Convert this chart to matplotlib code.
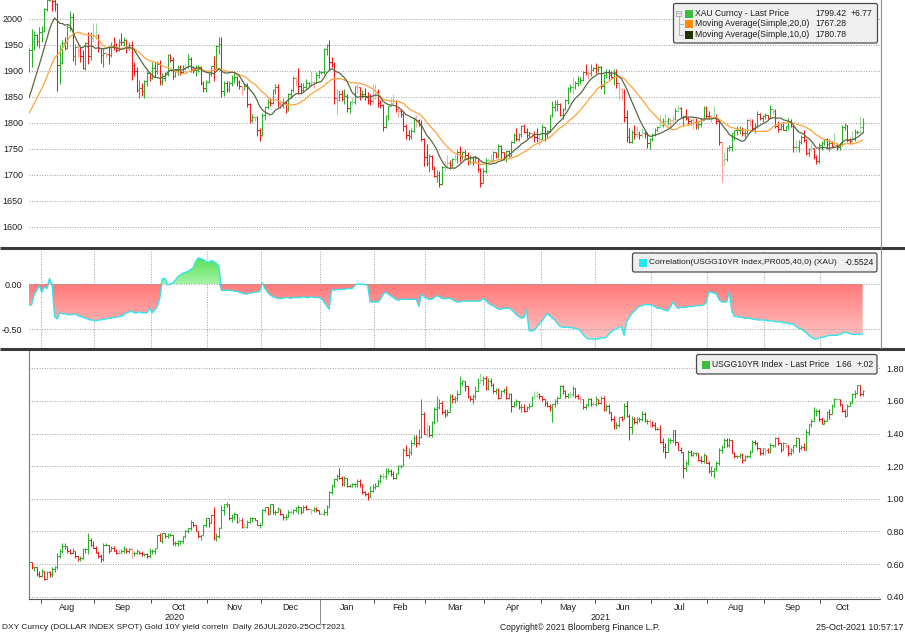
import numpy as np
import pandas as pd
import matplotlib
matplotlib.use("Agg")
import matplotlib.pyplot as plt
import matplotlib.transforms as mtransforms
from matplotlib.patches import FancyBboxPatch, Rectangle
from matplotlib.colors import LinearSegmentedColormap

plt.rcParams['font.family'] = ['Liberation Sans', 'DejaVu Sans']

dates = pd.bdate_range('2020-07-27', '2021-10-25')

# XAU spot, one inner list per calendar month (Jul-2020 .. Oct-2021)
gold_prior = [1781, 1770, 1775, 1774, 1784, 1795, 1809, 1803, 1798, 1803,
              1809, 1808, 1796, 1810, 1818, 1843, 1871, 1888, 1902]
gold_close = [
    [1941, 1958, 1970, 1957, 1975],
    [1976, 2019, 2037, 2063, 2035, 2028, 1911, 1915, 1954, 1944, 1985, 2003, 1929, 1946, 1940, 1929, 1906, 1953, 1929, 1964, 1968],
    [1970, 1944, 1930, 1934, 1932, 1930, 1947, 1946, 1940, 1956, 1955, 1960, 1944, 1950, 1912, 1900, 1863, 1868, 1862, 1880, 1897, 1887],
    [1906, 1900, 1913, 1878, 1887, 1894, 1930, 1922, 1891, 1902, 1908, 1899, 1906, 1907, 1924, 1904, 1902, 1902, 1908, 1877, 1868, 1879],
    [1894, 1909, 1904, 1949, 1951, 1862, 1877, 1866, 1877, 1887, 1888, 1879, 1871, 1866, 1871, 1837, 1805, 1812, 1811, 1787, 1776],
    [1815, 1830, 1841, 1839, 1864, 1870, 1839, 1837, 1839, 1827, 1855, 1863, 1886, 1881, 1871, 1864, 1869, 1876, 1876, 1878, 1877, 1893, 1898],
    [1898, 1943, 1950, 1918, 1913, 1849, 1844, 1856, 1846, 1851, 1828, 1840, 1840, 1871, 1870, 1855, 1856, 1850, 1844, 1843, 1848],
    [1860, 1838, 1834, 1793, 1814, 1832, 1838, 1842, 1826, 1824, 1818, 1795, 1776, 1775, 1784, 1809, 1806, 1797, 1770, 1734],
    [1723, 1737, 1712, 1698, 1700, 1683, 1716, 1716, 1723, 1719, 1731, 1731, 1745, 1736, 1745, 1738, 1726, 1734, 1725, 1732, 1711, 1685, 1708],
    [1728, 1728, 1729, 1744, 1737, 1756, 1744, 1732, 1747, 1736, 1764, 1777, 1770, 1779, 1794, 1783, 1777, 1780, 1778, 1773, 1772, 1769],
    [1792, 1779, 1785, 1815, 1831, 1836, 1837, 1815, 1827, 1844, 1867, 1869, 1870, 1877, 1881, 1882, 1898, 1897, 1896, 1902, 1906],
    [1903, 1908, 1871, 1892, 1898, 1893, 1888, 1898, 1877, 1866, 1859, 1812, 1774, 1764, 1782, 1778, 1779, 1776, 1781, 1779, 1761, 1770],
    [1777, 1787, 1792, 1796, 1803, 1803, 1808, 1805, 1807, 1824, 1828, 1812, 1813, 1810, 1803, 1806, 1802, 1797, 1799, 1806, 1829, 1814],
    [1813, 1810, 1812, 1804, 1763, 1729, 1730, 1752, 1753, 1780, 1786, 1786, 1787, 1781, 1781, 1805, 1803, 1790, 1793, 1818, 1810, 1814],
    [1815, 1810, 1827, 1823, 1795, 1788, 1795, 1787, 1794, 1804, 1794, 1754, 1754, 1764, 1774, 1768, 1743, 1750, 1751, 1734, 1726, 1757],
    [1761, 1769, 1760, 1762, 1756, 1757, 1754, 1760, 1793, 1796, 1768, 1765, 1769, 1782, 1783, 1792.65, 1799.42],
]
gold_high = [
    [1945, 1981, 1977, 1971, 1984],
    [1987, 2022, 2049, 2075, 2069, 2049, 2031, 1950, 1960, 1966, 1989, 2015, 2011, 1951, 1950, 1946, 1941, 1955, 1975, 1975, 1992],
    [1992, 1972, 1945, 1945, 1936, 1948, 1955, 1965, 1953, 1962, 1973, 1966, 1962, 1955, 1957, 1917, 1908, 1882, 1877, 1882, 1900, 1899],
    [1917, 1918, 1920, 1921, 1896, 1898, 1933, 1933, 1927, 1903, 1912, 1911, 1911, 1916, 1933, 1926, 1909, 1911, 1911, 1910, 1881, 1882],
    [1898, 1910, 1929, 1950, 1965, 1966, 1880, 1880, 1881, 1892, 1900, 1891, 1882, 1871, 1875, 1876, 1839, 1818, 1814, 1813, 1790],
    [1820, 1832, 1846, 1848, 1865, 1875, 1875, 1845, 1849, 1843, 1857, 1866, 1890, 1889, 1906, 1876, 1876, 1884, 1878, 1900, 1881, 1898, 1902],
    [1900, 1945, 1952, 1959, 1927, 1917, 1865, 1863, 1863, 1865, 1856, 1842, 1850, 1872, 1875, 1870, 1864, 1867, 1860, 1856, 1875],
    [1875, 1865, 1845, 1836, 1816, 1833, 1848, 1855, 1845, 1828, 1826, 1822, 1799, 1787, 1791, 1812, 1815, 1807, 1806, 1772],
    [1760, 1741, 1738, 1718, 1710, 1708, 1717, 1727, 1739, 1729, 1733, 1741, 1749, 1755, 1747, 1748, 1744, 1738, 1737, 1739, 1733, 1714, 1714],
    [1733, 1732, 1741, 1746, 1745, 1759, 1758, 1745, 1749, 1748, 1765, 1781, 1790, 1781, 1797, 1798, 1790, 1785, 1781, 1785, 1790, 1776],
    [1798, 1793, 1786, 1816, 1843, 1845, 1844, 1839, 1829, 1846, 1869, 1875, 1889, 1880, 1890, 1889, 1900, 1913, 1900, 1913, 1908],
    [1916, 1912, 1910, 1894, 1903, 1903, 1900, 1903, 1903, 1879, 1867, 1865, 1825, 1790, 1787, 1796, 1795, 1785, 1791, 1788, 1782, 1772],
    [1780, 1790, 1795, 1815, 1809, 1818, 1812, 1809, 1816, 1829, 1834, 1831, 1816, 1826, 1812, 1808, 1810, 1810, 1803, 1809, 1832, 1833],
    [1823, 1815, 1832, 1817, 1806, 1762, 1745, 1753, 1758, 1781, 1787, 1795, 1795, 1793, 1788, 1807, 1809, 1807, 1800, 1823, 1820, 1815],
    [1820, 1816, 1834, 1827, 1827, 1803, 1800, 1801, 1795, 1809, 1808, 1795, 1768, 1767, 1777, 1787, 1769, 1752, 1759, 1752, 1738, 1762],
    [1765, 1770, 1772, 1770, 1765, 1781, 1761, 1762, 1796, 1800, 1797, 1772, 1785, 1788, 1786, 1814, 1810],
]
gold_low = [
    [1898, 1907, 1940, 1948, 1945],
    [1955, 1975, 2016, 2034, 2015, 2015, 1862, 1875, 1914, 1941, 1943, 1976, 1920, 1912, 1926, 1917, 1904, 1902, 1914, 1922, 1955],
    [1962, 1936, 1915, 1907, 1925, 1913, 1927, 1940, 1937, 1939, 1950, 1949, 1934, 1940, 1882, 1890, 1859, 1848, 1851, 1849, 1872, 1881],
    [1885, 1889, 1895, 1873, 1873, 1880, 1891, 1917, 1885, 1889, 1892, 1892, 1896, 1899, 1905, 1899, 1897, 1890, 1899, 1873, 1860, 1860],
    [1877, 1890, 1880, 1905, 1932, 1850, 1852, 1860, 1860, 1872, 1876, 1871, 1866, 1854, 1864, 1830, 1800, 1801, 1803, 1775, 1765],
    [1775, 1806, 1826, 1833, 1837, 1856, 1831, 1826, 1828, 1819, 1824, 1849, 1859, 1871, 1856, 1858, 1860, 1866, 1872, 1872, 1868, 1876, 1887],
    [1895, 1895, 1931, 1901, 1908, 1836, 1817, 1842, 1842, 1837, 1822, 1820, 1834, 1837, 1858, 1845, 1848, 1845, 1836, 1835, 1837],
    [1846, 1831, 1829, 1785, 1791, 1806, 1831, 1837, 1822, 1811, 1812, 1784, 1769, 1767, 1769, 1782, 1793, 1794, 1766, 1717],
    [1717, 1705, 1711, 1697, 1687, 1676, 1680, 1707, 1714, 1712, 1714, 1727, 1723, 1725, 1730, 1729, 1720, 1722, 1720, 1723, 1705, 1677, 1684],
    [1704, 1725, 1723, 1726, 1733, 1733, 1730, 1728, 1725, 1734, 1736, 1761, 1766, 1766, 1774, 1780, 1771, 1774, 1772, 1764, 1763, 1757],
    [1767, 1765, 1772, 1783, 1812, 1823, 1824, 1814, 1808, 1825, 1836, 1859, 1855, 1866, 1871, 1875, 1880, 1893, 1885, 1890, 1900],
    [1896, 1899, 1866, 1855, 1887, 1885, 1886, 1874, 1867, 1845, 1844, 1802, 1763, 1761, 1761, 1770, 1774, 1770, 1773, 1771, 1751, 1750],
    [1766, 1775, 1784, 1790, 1792, 1797, 1797, 1792, 1800, 1805, 1823, 1809, 1794, 1806, 1797, 1797, 1789, 1789, 1788, 1793, 1806, 1810],
    [1807, 1801, 1809, 1798, 1758, 1687, 1718, 1727, 1746, 1747, 1768, 1776, 1779, 1775, 1773, 1779, 1795, 1786, 1781, 1791, 1806, 1802],
    [1808, 1808, 1809, 1817, 1791, 1782, 1787, 1786, 1785, 1787, 1792, 1745, 1745, 1745, 1759, 1763, 1738, 1737, 1746, 1730, 1721, 1723],
    [1748, 1757, 1750, 1746, 1752, 1753, 1749, 1748, 1756, 1786, 1764, 1760, 1760, 1766, 1778, 1780, 1781],
]

# 40-day correlation of USGG10YR vs XAU, one inner list per month
corr = [
    [-0.24, -0.23, -0.12, -0.07, -0.02],
    [-0.09, -0.03, -0.05, 0.06, -0.01, -0.36, -0.39, -0.32, -0.33, -0.33, -0.34, -0.34, -0.34, -0.33, -0.35, -0.36, -0.37, -0.38, -0.39, -0.40, -0.40],
    [-0.41, -0.40, -0.40, -0.39, -0.39, -0.38, -0.38, -0.37, -0.37, -0.36, -0.36, -0.34, -0.32, -0.31, -0.30, -0.32, -0.32, -0.31, -0.32, -0.32, -0.32, -0.27],
    [-0.32, -0.29, -0.25, -0.16, 0.06, 0.06, -0.01, 0.00, 0.01, 0.04, 0.08, 0.10, 0.12, 0.13, 0.14, 0.16, 0.18, 0.25, 0.29, 0.28, 0.27, 0.25],
    [0.24, 0.26, 0.25, 0.23, 0.20, -0.07, -0.07, -0.07, -0.07, -0.07, -0.08, -0.08, -0.09, -0.10, -0.11, -0.11, -0.10, -0.10, -0.09, -0.09, -0.08],
    [0.01, -0.05, -0.09, -0.12, -0.14, -0.15, -0.16, -0.16, -0.16, -0.15, -0.15, -0.16, -0.15, -0.15, -0.15, -0.15, -0.14, -0.15, -0.15, -0.14, -0.15, -0.15, -0.15],
    [-0.16, -0.20, -0.24, -0.28, -0.06, -0.07, -0.06, -0.06, -0.06, -0.06, -0.05, -0.05, -0.05, -0.02, 0.00, 0.00, 0.00, -0.01, -0.01, -0.20, -0.20],
    [-0.20, -0.20, -0.17, -0.12, -0.09, -0.11, -0.13, -0.15, -0.17, -0.18, -0.17, -0.17, -0.17, -0.17, -0.17, -0.17, -0.17, -0.25, -0.11, -0.14],
    [-0.16, -0.17, -0.17, -0.15, -0.13, -0.14, -0.16, -0.16, -0.16, -0.16, -0.17, -0.19, -0.20, -0.20, -0.19, -0.19, -0.19, -0.19, -0.19, -0.19, -0.19, -0.19, -0.16],
    [-0.18, -0.21, -0.23, -0.24, -0.26, -0.28, -0.28, -0.27, -0.27, -0.27, -0.28, -0.31, -0.34, -0.36, -0.38, -0.37, -0.29, -0.52, -0.52, -0.51, -0.48, -0.44],
    [-0.41, -0.37, -0.33, -0.35, -0.38, -0.40, -0.44, -0.47, -0.48, -0.48, -0.48, -0.48, -0.49, -0.49, -0.50, -0.52, -0.56, -0.59, -0.61, -0.61, -0.61],
    [-0.61, -0.61, -0.60, -0.60, -0.59, -0.56, -0.53, -0.51, -0.50, -0.48, -0.47, -0.57, -0.42, -0.37, -0.33, -0.30, -0.27, -0.25, -0.24, -0.23, -0.23, -0.23],
    [-0.24, -0.25, -0.27, -0.27, -0.28, -0.29, -0.30, -0.26, -0.20, -0.24, -0.27, -0.26, -0.26, -0.26, -0.25, -0.25, -0.25, -0.24, -0.24, -0.24, -0.23, -0.21],
    [-0.09, -0.09, -0.10, -0.11, -0.17, -0.20, -0.20, -0.20, -0.09, -0.30, -0.36, -0.36, -0.37, -0.37, -0.38, -0.38, -0.38, -0.39, -0.39, -0.40, -0.40, -0.40],
    [-0.40, -0.41, -0.41, -0.41, -0.42, -0.42, -0.42, -0.43, -0.43, -0.44, -0.44, -0.45, -0.47, -0.49, -0.50, -0.52, -0.54, -0.57, -0.59, -0.61, -0.61, -0.60],
    [-0.59, -0.59, -0.58, -0.57, -0.57, -0.57, -0.57, -0.56, -0.55, -0.53, -0.54, -0.55, -0.56, -0.56, -0.56, -0.56, -0.5524],
]

# USGG10YR yield (%), one inner list per month
ylds_prior = 0.59
ylds_close = [
    [0.61, 0.58, 0.58, 0.54, 0.53],
    [0.56, 0.51, 0.55, 0.54, 0.57, 0.58, 0.65, 0.68, 0.71, 0.71, 0.68, 0.67, 0.68, 0.65, 0.63, 0.64, 0.69, 0.69, 0.75, 0.72, 0.70],
    [0.67, 0.65, 0.63, 0.72, 0.72, 0.68, 0.70, 0.68, 0.67, 0.67, 0.68, 0.69, 0.68, 0.69, 0.67, 0.67, 0.68, 0.67, 0.66, 0.66, 0.65, 0.68],
    [0.68, 0.70, 0.78, 0.74, 0.79, 0.77, 0.78, 0.78, 0.73, 0.73, 0.74, 0.74, 0.77, 0.80, 0.82, 0.86, 0.84, 0.80, 0.77, 0.78, 0.84, 0.88],
    [0.85, 0.90, 0.76, 0.77, 0.82, 0.93, 0.97, 0.97, 0.88, 0.89, 0.91, 0.86, 0.87, 0.83, 0.83, 0.86, 0.88, 0.88, 0.87, 0.84, 0.84],
    [0.93, 0.95, 0.91, 0.97, 0.92, 0.92, 0.94, 0.91, 0.89, 0.89, 0.92, 0.92, 0.93, 0.95, 0.95, 0.92, 0.95, 0.94, 0.94, 0.93, 0.94, 0.93, 0.91],
    [0.91, 0.92, 0.95, 1.04, 1.08, 1.12, 1.14, 1.13, 1.09, 1.13, 1.08, 1.08, 1.09, 1.09, 1.11, 1.09, 1.04, 1.03, 1.01, 1.05, 1.07],
    [1.08, 1.11, 1.14, 1.14, 1.17, 1.17, 1.15, 1.13, 1.16, 1.20, 1.20, 1.30, 1.27, 1.29, 1.34, 1.37, 1.34, 1.38, 1.52, 1.40],
    [1.42, 1.39, 1.47, 1.55, 1.56, 1.59, 1.53, 1.52, 1.53, 1.63, 1.61, 1.62, 1.64, 1.71, 1.72, 1.69, 1.63, 1.61, 1.63, 1.66, 1.71, 1.73, 1.74],
    [1.68, 1.72, 1.70, 1.66, 1.67, 1.62, 1.66, 1.67, 1.62, 1.64, 1.57, 1.58, 1.60, 1.56, 1.56, 1.54, 1.56, 1.57, 1.62, 1.63, 1.64, 1.63],
    [1.61, 1.59, 1.57, 1.56, 1.58, 1.60, 1.62, 1.69, 1.66, 1.63, 1.64, 1.64, 1.68, 1.63, 1.62, 1.61, 1.56, 1.58, 1.61, 1.58, 1.58],
    [1.61, 1.59, 1.62, 1.55, 1.57, 1.53, 1.49, 1.45, 1.45, 1.50, 1.49, 1.57, 1.51, 1.44, 1.49, 1.47, 1.49, 1.49, 1.52, 1.48, 1.48, 1.47],
    [1.45, 1.43, 1.43, 1.35, 1.32, 1.29, 1.36, 1.36, 1.42, 1.35, 1.30, 1.29, 1.19, 1.22, 1.29, 1.27, 1.28, 1.28, 1.24, 1.23, 1.27, 1.22],
    [1.17, 1.17, 1.19, 1.22, 1.30, 1.32, 1.36, 1.33, 1.36, 1.28, 1.26, 1.26, 1.27, 1.24, 1.26, 1.26, 1.29, 1.35, 1.34, 1.31, 1.28, 1.31],
    [1.30, 1.29, 1.33, 1.33, 1.37, 1.34, 1.30, 1.34, 1.33, 1.28, 1.30, 1.33, 1.37, 1.31, 1.32, 1.30, 1.41, 1.46, 1.48, 1.54, 1.54, 1.49],
    [1.46, 1.48, 1.53, 1.52, 1.57, 1.61, 1.61, 1.58, 1.54, 1.51, 1.57, 1.59, 1.64, 1.65, 1.70, 1.64, 1.66],
]
ylds_high = [
    [0.62, 0.61, 0.59, 0.58, 0.56],
    [0.57, 0.56, 0.56, 0.56, 0.58, 0.59, 0.67, 0.69, 0.73, 0.73, 0.71, 0.69, 0.70, 0.68, 0.65, 0.65, 0.70, 0.70, 0.79, 0.76, 0.74],
    [0.71, 0.68, 0.66, 0.73, 0.73, 0.72, 0.71, 0.71, 0.69, 0.69, 0.69, 0.71, 0.70, 0.70, 0.70, 0.68, 0.69, 0.68, 0.68, 0.67, 0.67, 0.70],
    [0.69, 0.70, 0.78, 0.79, 0.79, 0.79, 0.79, 0.79, 0.78, 0.74, 0.75, 0.75, 0.77, 0.81, 0.82, 0.87, 0.86, 0.84, 0.80, 0.78, 0.84, 0.88],
    [0.88, 0.91, 0.95, 0.79, 0.83, 0.96, 0.97, 0.98, 0.97, 0.91, 0.92, 0.91, 0.89, 0.88, 0.85, 0.87, 0.89, 0.89, 0.88, 0.87, 0.85],
    [0.94, 0.95, 0.95, 0.97, 0.96, 0.93, 0.95, 0.94, 0.91, 0.91, 0.93, 0.94, 0.94, 0.95, 0.96, 0.95, 0.96, 0.96, 0.94, 0.94, 0.95, 0.95, 0.93],
    [0.92, 0.94, 0.96, 1.05, 1.09, 1.13, 1.15, 1.19, 1.14, 1.14, 1.13, 1.09, 1.10, 1.10, 1.12, 1.12, 1.09, 1.05, 1.04, 1.08, 1.09],
    [1.10, 1.12, 1.15, 1.16, 1.19, 1.19, 1.18, 1.17, 1.16, 1.21, 1.21, 1.31, 1.33, 1.31, 1.36, 1.39, 1.39, 1.43, 1.61, 1.53],
    [1.47, 1.45, 1.48, 1.56, 1.63, 1.61, 1.60, 1.55, 1.55, 1.64, 1.64, 1.63, 1.67, 1.75, 1.73, 1.72, 1.69, 1.63, 1.64, 1.69, 1.74, 1.77, 1.75],
    [1.75, 1.74, 1.74, 1.71, 1.68, 1.68, 1.67, 1.68, 1.69, 1.65, 1.65, 1.60, 1.61, 1.60, 1.58, 1.58, 1.57, 1.59, 1.63, 1.66, 1.66, 1.65],
    [1.63, 1.61, 1.60, 1.58, 1.58, 1.61, 1.63, 1.70, 1.70, 1.67, 1.65, 1.66, 1.69, 1.68, 1.64, 1.63, 1.61, 1.58, 1.62, 1.62, 1.60],
    [1.63, 1.61, 1.63, 1.63, 1.58, 1.58, 1.53, 1.51, 1.47, 1.50, 1.51, 1.59, 1.60, 1.52, 1.51, 1.50, 1.50, 1.50, 1.54, 1.53, 1.49, 1.49],
    [1.48, 1.47, 1.44, 1.45, 1.37, 1.34, 1.37, 1.37, 1.42, 1.42, 1.35, 1.32, 1.28, 1.23, 1.30, 1.30, 1.29, 1.29, 1.28, 1.26, 1.28, 1.27],
    [1.23, 1.20, 1.19, 1.23, 1.31, 1.33, 1.37, 1.37, 1.37, 1.36, 1.29, 1.27, 1.28, 1.28, 1.27, 1.27, 1.30, 1.36, 1.36, 1.35, 1.31, 1.31],
    [1.31, 1.31, 1.34, 1.33, 1.38, 1.38, 1.34, 1.35, 1.34, 1.33, 1.31, 1.33, 1.38, 1.37, 1.33, 1.34, 1.43, 1.46, 1.49, 1.56, 1.55, 1.55],
    [1.50, 1.49, 1.54, 1.55, 1.58, 1.62, 1.62, 1.61, 1.58, 1.55, 1.58, 1.60, 1.65, 1.67, 1.70, 1.70, 1.67],
]
ylds_low = [
    [0.58, 0.57, 0.56, 0.53, 0.52],
    [0.52, 0.50, 0.51, 0.52, 0.52, 0.55, 0.57, 0.64, 0.67, 0.69, 0.67, 0.66, 0.66, 0.64, 0.62, 0.62, 0.63, 0.67, 0.66, 0.71, 0.70],
    [0.67, 0.64, 0.61, 0.62, 0.71, 0.67, 0.68, 0.68, 0.66, 0.66, 0.67, 0.67, 0.67, 0.67, 0.64, 0.65, 0.66, 0.66, 0.65, 0.65, 0.64, 0.64],
    [0.66, 0.66, 0.70, 0.74, 0.73, 0.76, 0.76, 0.77, 0.72, 0.71, 0.71, 0.72, 0.73, 0.76, 0.79, 0.81, 0.83, 0.80, 0.76, 0.75, 0.78, 0.83],
    [0.83, 0.85, 0.75, 0.74, 0.76, 0.82, 0.90, 0.95, 0.87, 0.86, 0.87, 0.85, 0.86, 0.82, 0.82, 0.82, 0.85, 0.86, 0.87, 0.84, 0.82],
    [0.84, 0.92, 0.90, 0.91, 0.91, 0.90, 0.92, 0.90, 0.87, 0.87, 0.89, 0.91, 0.91, 0.92, 0.91, 0.91, 0.92, 0.93, 0.94, 0.91, 0.92, 0.92, 0.91],
    [0.91, 0.90, 0.90, 0.95, 1.03, 1.07, 1.11, 1.12, 1.08, 1.08, 1.07, 1.07, 1.07, 1.07, 1.07, 1.07, 1.03, 1.02, 0.99, 1.01, 1.04],
    [1.06, 1.08, 1.10, 1.12, 1.12, 1.15, 1.14, 1.12, 1.12, 1.15, 1.19, 1.21, 1.26, 1.25, 1.27, 1.33, 1.32, 1.33, 1.37, 1.40],
    [1.38, 1.38, 1.38, 1.46, 1.47, 1.55, 1.52, 1.50, 1.51, 1.53, 1.59, 1.59, 1.60, 1.64, 1.69, 1.66, 1.62, 1.60, 1.58, 1.61, 1.66, 1.71, 1.70],
    [1.67, 1.67, 1.69, 1.65, 1.64, 1.61, 1.62, 1.65, 1.61, 1.61, 1.53, 1.56, 1.57, 1.55, 1.53, 1.53, 1.54, 1.55, 1.57, 1.61, 1.62, 1.61],
    [1.60, 1.57, 1.56, 1.54, 1.47, 1.56, 1.58, 1.62, 1.64, 1.62, 1.62, 1.62, 1.63, 1.62, 1.61, 1.59, 1.55, 1.55, 1.57, 1.57, 1.57],
    [1.57, 1.58, 1.58, 1.54, 1.54, 1.52, 1.48, 1.43, 1.43, 1.44, 1.48, 1.49, 1.50, 1.36, 1.40, 1.46, 1.46, 1.47, 1.48, 1.47, 1.46, 1.44],
    [1.44, 1.42, 1.42, 1.34, 1.29, 1.25, 1.29, 1.34, 1.35, 1.33, 1.30, 1.28, 1.13, 1.17, 1.21, 1.26, 1.26, 1.26, 1.23, 1.22, 1.22, 1.22],
    [1.16, 1.14, 1.13, 1.17, 1.21, 1.28, 1.31, 1.32, 1.32, 1.28, 1.25, 1.25, 1.25, 1.22, 1.23, 1.25, 1.25, 1.29, 1.33, 1.30, 1.27, 1.27],
    [1.27, 1.28, 1.28, 1.32, 1.32, 1.33, 1.29, 1.30, 1.31, 1.26, 1.27, 1.28, 1.32, 1.29, 1.30, 1.30, 1.30, 1.39, 1.44, 1.48, 1.51, 1.48],
    [1.46, 1.46, 1.48, 1.49, 1.52, 1.56, 1.61, 1.57, 1.53, 1.50, 1.51, 1.57, 1.59, 1.62, 1.64, 1.63, 1.63],
]

GREEN, LIGHT_GREEN = '#2BB02B', '#9ADB9A'
RED, LIGHT_RED = '#F01818', '#FF9C9C'
GRID = '#9c9c9c'
TXT = '#1e1e1e'
FS = 6.5       # axis labels
LFS = 6.25     # legend text

months = pd.Series(dates).dt.to_period('M')
month_counts = months.value_counts().sort_index()


def flat(month_lists, name):
    got = [len(m) for m in month_lists]
    want = month_counts.tolist()
    if got != want:
        raise ValueError(f'{name}: {got} != {want}')
    return np.array([v for m in month_lists for v in m], dtype=float)


g_c = flat(gold_close, 'gold_close')
g_h = flat(gold_high, 'gold_high')
g_l = flat(gold_low, 'gold_low')
y_c = flat(ylds_close, 'ylds_close')
y_h = flat(ylds_high, 'ylds_high')
y_l = flat(ylds_low, 'ylds_low')
cr = flat(corr, 'corr')

xi = np.arange(len(dates))
# open taken as the previous close
g_o = np.concatenate([[gold_prior[-1]], g_c[:-1]])
y_o = np.concatenate([[ylds_prior], y_c[:-1]])

full = pd.Series(list(gold_prior) + list(g_c))
ma20 = full.rolling(20).mean().values[len(gold_prior):]
ma10 = full.rolling(10).mean().values[len(gold_prior):]

W, H = 905, 634
PX0, PXD = 29.0, 2.565          # pixel of first bar, pixels per bar
XL = ((28.5 - PX0) / PXD, (880 - PX0) / PXD)


def rect(x0, y0, x1, y1):
    return [x0 / W, 1 - y1 / H, (x1 - x0) / W, (y1 - y0) / H]


def draw_bars(ax, o, h, l, c):
    h = np.maximum(h, np.maximum(o, c))
    l = np.minimum(l, np.minimum(o, c))
    up = c >= o
    mid = (h + l) / 2
    weak = np.where(up, c < mid, c > mid)
    cols = np.where(up, np.where(weak, LIGHT_GREEN, GREEN),
                    np.where(weak, LIGHT_RED, RED))
    ax.vlines(xi, l, h, colors=cols, lw=0.75, zorder=2)
    ax.hlines(o, xi - 0.6, xi, colors=cols, lw=0.75, zorder=2)
    ax.hlines(c, xi, xi + 0.6, colors=cols, lw=0.75, zorder=2)


def style(ax):
    for s in ax.spines.values():
        s.set_visible(False)
    ax.set_xlim(*XL)
    ax.tick_params(axis='both', length=0, labelsize=FS, colors=TXT)
    ax.set_xticks([])


fig = plt.figure(figsize=(W / 100, H / 100), dpi=100)

# ---- top panel: XAU bars + moving averages
ax1 = fig.add_axes(rect(28.5, 0, 880, 247))
style(ax1)
draw_bars(ax1, g_o, g_h, g_l, g_c)
ax1.plot(xi, ma20, color='#FFA23A', lw=0.9, zorder=3)
ax1.plot(xi, ma10, color='#5A6842', lw=0.9, zorder=4)
ax1.set_ylim(1561.5, 2036.5)
ax1.set_yticks(np.arange(1600, 2001, 50))
ax1.yaxis.set_major_formatter(lambda v, p: f'{v:.0f}')
ax1.tick_params(axis='y', pad=4)
ax1.grid(axis='y', ls=(0, (1, 1.6)), color=GRID, lw=0.7)

# ---- middle panel: correlation with gradient fill
ax2 = fig.add_axes(rect(28.5, 250, 880, 348))
style(ax2)
ylo2, yhi2 = -0.711, 0.378
ax2.set_ylim(ylo2, yhi2)
grad = np.linspace(0, 1, 256).reshape(-1, 1)
neg_fill = ax2.fill_between(xi, np.minimum(cr, 0), 0, color='none', lw=0)
pos_fill = ax2.fill_between(xi, np.maximum(cr, 0), 0, color='none', lw=0)
red_cmap = LinearSegmentedColormap.from_list('r', ['#FF7A7A', '#FFD0D0'])
grn_cmap = LinearSegmentedColormap.from_list('g', ['#A6F4A6', '#55E055'])
im_r = ax2.imshow(grad, cmap=red_cmap, extent=[XL[0], XL[1], ylo2, 0],
                  origin='upper', aspect='auto', zorder=1)
im_r.set_clip_path(neg_fill.get_paths()[0], transform=ax2.transData)
im_g = ax2.imshow(grad, cmap=grn_cmap, extent=[XL[0], XL[1], 0, 0.3],
                  origin='lower', aspect='auto', zorder=1)
im_g.set_clip_path(pos_fill.get_paths()[0], transform=ax2.transData)
ax2.plot(xi, cr, color='#2FE4EA', lw=1.0, zorder=3)
ax2.set_xlim(*XL)
ax2.set_ylim(ylo2, yhi2)
ax2.set_yticks([0.0, -0.5])
ax2.yaxis.set_major_formatter(lambda v, p: f'{v:.2f}')
ax2.tick_params(axis='y', pad=4.5)
ax2.grid(axis='y', ls=(0, (1, 1.6)), color=GRID, lw=0.7)

month_start = np.r_[0, np.cumsum(month_counts.values)[:-1]]
bounds = month_start[1:] - 0.5
for b in bounds:
    ax2.axvline(b, ls=(0, (1, 1.6)), color=GRID, lw=0.7, zorder=0)

# ---- bottom panel: 10Y yield bars
ax3 = fig.add_axes(rect(28.5, 351, 880, 599))
style(ax3)
draw_bars(ax3, y_o, y_h, y_l, y_c)
ax3.set_ylim(0.386, 1.906)
ax3.yaxis.tick_right()
ax3.set_yticks(np.arange(0.4, 1.81, 0.2))
ax3.yaxis.set_major_formatter(lambda v, p: f'{v:.2f}')
ax3.tick_params(axis='y', pad=4.8)
ax3.grid(axis='y', ls=(0, (1, 1.6)), color=GRID, lw=0.7)
ax3.spines['left'].set_visible(True)
ax3.spines['left'].set_color('#7a7a7a')
ax3.spines['bottom'].set_visible(True)
ax3.spines['bottom'].set_color('#555555')
ax3.set_xticks(bounds)
ax3.set_xticklabels([])
ax3.tick_params(axis='x', length=3, width=0.7, colors='#444444', direction='out')

trans = mtransforms.blended_transform_factory(ax3.transData, ax3.transAxes)
for start, cnt, per in zip(month_start, month_counts.values, month_counts.index):
    if cnt >= 10:
        ax3.text(start + (cnt - 1) / 2, -0.033, per.strftime('%b'), transform=trans,
                 ha='center', va='center', fontsize=FS, color=TXT)
years = sorted(set(p.year for p in month_counts.index))
for yr in years:
    idx = [k for k, p in enumerate(month_counts.index) if p.year == yr]
    x_from = max(month_start[idx[0]] - 0.5, XL[0])
    x_to = XL[1] if idx[-1] == len(month_counts) - 1 else month_start[idx[-1] + 1] - 0.5
    ax3.text((x_from + x_to) / 2, -0.074, str(yr), transform=trans,
             ha='center', va='center', fontsize=FS, color=TXT)
    if idx[0] > 0:
        ax3.plot([x_from, x_from], [0, -0.095], transform=trans, clip_on=False,
                 color='#8a8a8a', lw=0.7)

# ---- overlay in pixel coordinates: separators, legends, footer
ov = fig.add_axes([0, 0, 1, 1], zorder=10)
ov.set_xlim(0, W)
ov.set_ylim(H, 0)
ov.axis('off')
ov.patch.set_visible(False)

for ysep in (248.3, 349.3):
    ov.plot([0, W], [ysep, ysep], color='#3a3a3a', lw=2.2, solid_capstyle='butt')
ov.plot([880.5, 880.5], [0, 348], color='#8c8c8c', lw=0.8)


def legend_box(x0, y0, w, h):
    ov.add_patch(FancyBboxPatch((x0, y0), w, h, boxstyle='round,pad=0,rounding_size=2',
                                fc='#F0F0F0', ec='#4a4a4a', lw=0.9))


def swatch(x, y, col):
    ov.add_patch(Rectangle((x, y - 4), 8, 8, fc=col, ec='none'))


legend_box(673.5, 3.5, 204, 39.5)
ov.add_patch(Rectangle((676, 10.5), 5, 5, fc='none', ec='#9a9a9a', lw=0.5))
ov.plot([677, 680], [13, 13], color='#9a9a9a', lw=0.5)
ov.plot([678.5, 678.5, 683], [15.5, 35, 35], color='#9a9a9a', lw=0.5)
ov.plot([678.5, 683], [24, 24], color='#9a9a9a', lw=0.5)
rows = [(13.5, '#3CBE3C', 'XAU Curncy - Last Price', '1799.42', '+6.77'),
        (24.0, '#FF8C00', 'Moving Average(Simple,20,0)', '1767.28', ''),
        (34.5, '#1E3300', 'Moving Average(Simple,10,0)', '1780.78', '')]
for yy, col, lab, val, chg in rows:
    swatch(685, yy, col)
    ov.text(695, yy, lab, fontsize=LFS, color=TXT, va='center', ha='left')
    ov.text(815, yy, val, fontsize=LFS, color=TXT, va='center', ha='left')
    if chg:
        ov.text(851, yy, chg, fontsize=LFS, color=TXT, va='center', ha='left')

legend_box(632.5, 253, 244.5, 19)
swatch(638.5, 262.5, '#1EE8F0')
ov.text(649, 262.5, 'Correlation(USGG10YR Index,PR005,40,0) (XAU)', fontsize=6.0,
        color=TXT, va='center', ha='left')
ov.text(845, 262.5, '-0.5524', fontsize=LFS, color=TXT, va='center', ha='left')

legend_box(696.5, 354.5, 180.5, 19.5)
swatch(702, 364.5, '#3CBE3C')
ov.text(712, 364.5, 'USGG10YR Index - Last Price', fontsize=LFS, color=TXT,
        va='center', ha='left')
ov.text(835, 364.5, '1.66', fontsize=LFS, color=TXT, va='center', ha='left')
ov.text(857, 364.5, '+.02', fontsize=LFS, color=TXT, va='center', ha='left')

ov.text(2, 627.5, 'DXY Curncy (DOLLAR INDEX SPOT) Gold 10Y yield correln  Daily 26JUL2020-25OCT2021',
        fontsize=6.0, color=TXT, va='center', ha='left')
ov.text(580, 627.5, 'Copyright\u00a9 2021 Bloomberg Finance L.P.', fontsize=6.2, color=TXT,
        va='center', ha='center')
ov.text(903, 627.5, '25-Oct-2021 10:57:17', fontsize=FS, color=TXT, va='center', ha='right')

fig.savefig('out.png', dpi=100, facecolor='white')
